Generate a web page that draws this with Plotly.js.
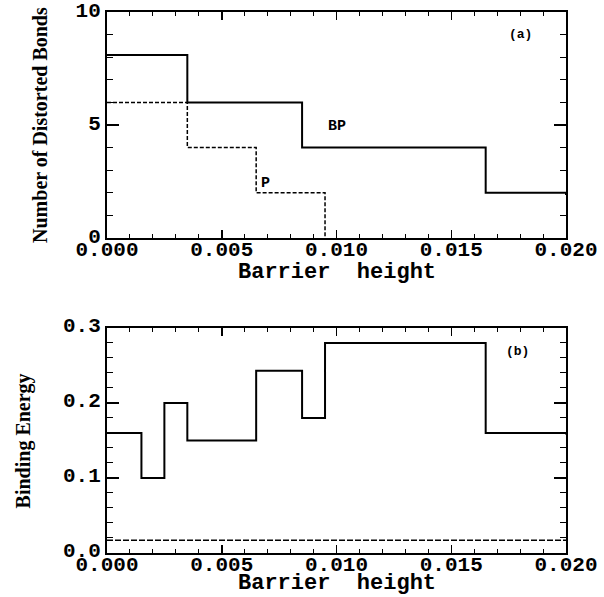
<!DOCTYPE html>
<html>
<head>
<meta charset="utf-8">
<script src="https://cdn.plot.ly/plotly-3.0.1.min.js"></script>
<style>html,body{margin:0;padding:0;background:#fff;}#chart{width:604px;height:597px;}</style>
</head>
<body>
<div id="chart"></div>
<script>
// ---- data ----
// Panel (a): number of distorted bonds vs barrier height (step curves)
const bpX = [0, 0.0035, 0.0085, 0.0165, 0.020];
const bpY = [8.1, 6, 4, 2, 1.9];
const pX = [0, 0.0035, 0.0065, 0.0095];
const pY = [6, 4, 2, 0];
// Panel (b): binding energy vs barrier height
const beX = [0, 0.0015, 0.0025, 0.0035, 0.0065, 0.0085, 0.0095, 0.0165, 0.020];
const beY = [0.16, 0.10, 0.20, 0.15, 0.243, 0.18, 0.28, 0.16, 0.158];
const baseX = [0, 0.020];
const baseY = [0.017, 0.017];
// labels
const xTitle = "Barrier\u00a0\u00a0height";
const yTitleA = "Number of Distorted Bonds";
const yTitleB = "Binding Energy";
const panelA = "(a)";
const panelB = "(b)";
const labelBP = "BP";
const labelP = "P";

const monoFam = "Liberation Mono, Courier New, monospace";
const tickFont = {family: monoFam, size: 21, color: "#000", weight: "bold"};
const titleFont = {family: monoFam, size: 22, color: "#000", weight: "bold"};
const serifFont = {family: "Liberation Serif, Times New Roman, serif", size: 20, color: "#000", weight: "bold"};
const smallFont = {family: monoFam, size: 13, color: "#000", weight: "bold"};
const labelFont = {family: monoFam, size: 15, color: "#000", weight: "bold"};

const traces = [
  {x: bpX, y: bpY, mode: "lines", line: {shape: "hv", color: "#000", width: 2}, xaxis: "x", yaxis: "y", hoverinfo: "none"},
  {x: pX, y: pY, mode: "lines", line: {shape: "hv", color: "#000", width: 1.5, dash: "4px,2px"}, xaxis: "x", yaxis: "y", hoverinfo: "none"},
  {x: beX, y: beY, mode: "lines", line: {shape: "hv", color: "#000", width: 2}, xaxis: "x2", yaxis: "y2", hoverinfo: "none"},
  {x: baseX, y: baseY, mode: "lines", line: {color: "#000", width: 1.5, dash: "6px,2px"}, xaxis: "x2", yaxis: "y2", hoverinfo: "none"}
];

function xAxis(anchor) {
  return {
    anchor: anchor, domain: [0, 1], range: [0, 0.020], dtick: 0.005, tick0: 0,
    tickformat: ".3f", ticks: "inside", ticklen: 8, tickwidth: 1.5, tickcolor: "#000",
    ticklabelstandoff: -9, ticklabeloverflow: "allow",
    minor: {dtick: 0.001, ticks: "inside", ticklen: 4, tickwidth: 1, tickcolor: "#000", showgrid: false},
    showline: true, linecolor: "#000", linewidth: 2, mirror: "allticks",
    showgrid: false, zeroline: false, tickfont: tickFont
  };
}

const layout = {
  width: 604, height: 597,
  margin: {l: 107, r: 38, t: 12, b: 44},
  paper_bgcolor: "#fff", plot_bgcolor: "#fff",
  showlegend: false,
  xaxis: xAxis("y"),
  xaxis2: xAxis("y2"),
  yaxis: {
    anchor: "x", domain: [0.5823, 1], range: [0, 10], dtick: 5, tick0: 0,
    ticks: "inside", ticklen: 12, tickwidth: 1.5, tickcolor: "#000",
    ticklabelshift: -2, ticklabeloverflow: "allow",
    minor: {dtick: 1, ticks: "inside", ticklen: 6, tickwidth: 1, tickcolor: "#000", showgrid: false},
    showline: true, linecolor: "#000", linewidth: 2, mirror: "allticks",
    showgrid: false, zeroline: false, tickfont: tickFont
  },
  yaxis2: {
    anchor: "x2", domain: [0, 0.4159], range: [0, 0.3], dtick: 0.1, tick0: 0,
    tickformat: ".1f",
    ticks: "inside", ticklen: 12, tickwidth: 1.5, tickcolor: "#000",
    ticklabelshift: -3, ticklabeloverflow: "allow",
    minor: {dtick: 0.02, ticks: "inside", ticklen: 6, tickwidth: 1, tickcolor: "#000", showgrid: false},
    showline: true, linecolor: "#000", linewidth: 2, mirror: "allticks",
    showgrid: false, zeroline: false, tickfont: tickFont
  },
  annotations: [
    {text: xTitle, xref: "paper", yref: "paper", x: 0.5, y: 0.519, xanchor: "center", yanchor: "middle", showarrow: false, font: titleFont},
    {text: xTitle, xref: "paper", yref: "paper", x: 0.5, y: -0.0573, xanchor: "center", yanchor: "middle", showarrow: false, font: titleFont},
    {text: yTitleA, xref: "paper", yref: "y domain", x: -0.146, y: 0.5, xanchor: "center", yanchor: "middle", textangle: -90, showarrow: false, font: serifFont},
    {text: yTitleB, xref: "paper", yref: "y2 domain", x: -0.181, y: 0.5, xanchor: "center", yanchor: "middle", textangle: -90, showarrow: false, font: serifFont},
    {text: panelA, xref: "x", yref: "y", x: 0.0180, y: 9.0, showarrow: false, font: smallFont},
    {text: panelB, xref: "x2", yref: "y2", x: 0.0179, y: 0.268, showarrow: false, font: smallFont},
    {text: labelBP, xref: "x", yref: "y", x: 0.0100, y: 4.95, showarrow: false, font: labelFont},
    {text: labelP, xref: "x", yref: "y", x: 0.0069, y: 2.4, showarrow: false, font: labelFont}
  ]
};

Plotly.newPlot("chart", traces, layout, {staticPlot: true, displayModeBar: false});
</script>
</body>
</html>
